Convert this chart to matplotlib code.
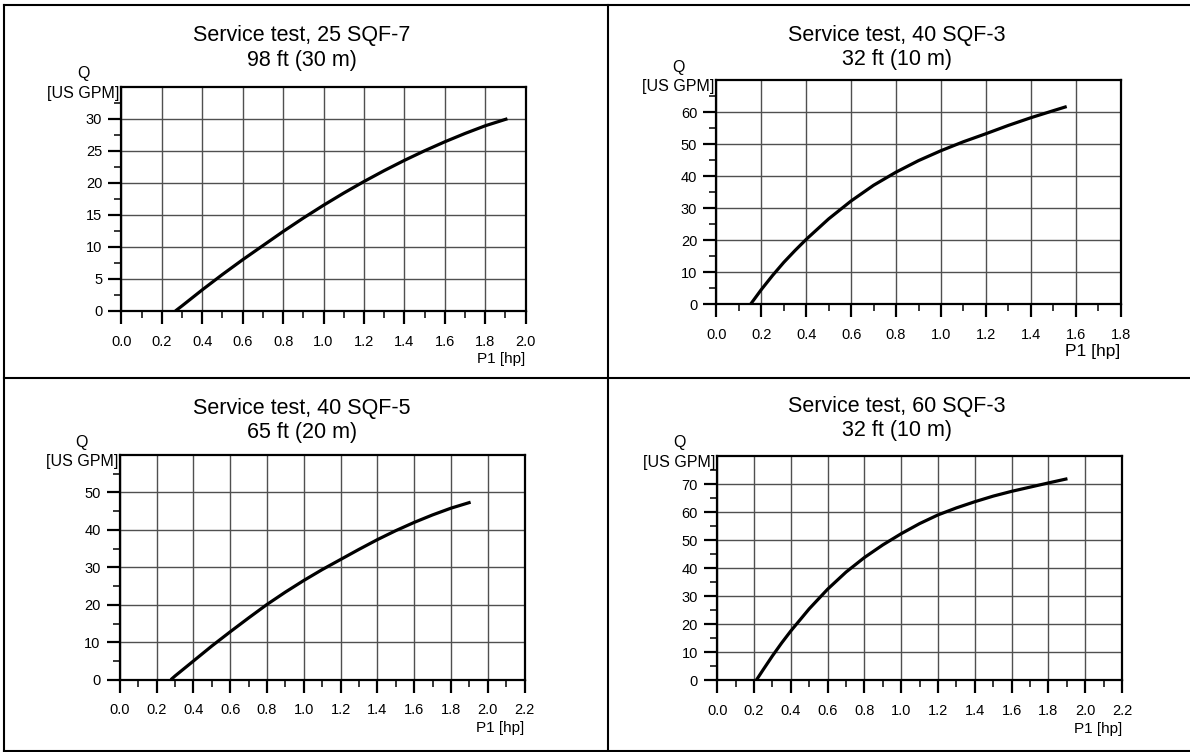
import matplotlib
matplotlib.use("Agg")
import matplotlib.pyplot as plt
import numpy as np
from matplotlib.lines import Line2D
from matplotlib.ticker import FormatStrFormatter, FixedLocator

plt.rcParams['font.family'] = ['Liberation Sans', 'DejaVu Sans']

# ---------------- data ----------------
titles = ["Service test, 25 SQF-7", "Service test, 40 SQF-3",
          "Service test, 40 SQF-5", "Service test, 60 SQF-3"]
subtitles = ["98 ft (30 m)", "32 ft (10 m)", "65 ft (20 m)", "32 ft (10 m)"]

p1_a = [0.267, 0.3, 0.4, 0.5, 0.6, 0.7, 0.8, 0.9, 1.0, 1.1, 1.2, 1.3, 1.4, 1.5, 1.6, 1.7, 1.8, 1.91]
q_a = [0.0, 0.8, 3.3, 5.7, 8.0, 10.2, 12.4, 14.5, 16.5, 18.4, 20.2, 21.9, 23.5, 25.0, 26.4, 27.7, 28.9, 30.0]

p1_b = [0.152, 0.2, 0.25, 0.3, 0.35, 0.4, 0.5, 0.6, 0.7, 0.8, 0.9, 1.0, 1.1, 1.2, 1.3, 1.4, 1.5, 1.56]
q_b = [0.0, 4.6, 9.0, 13.1, 16.8, 20.3, 26.7, 32.3, 37.2, 41.3, 44.9, 48.0, 50.8, 53.3, 55.9, 58.3, 60.5, 61.8]

p1_c = [0.277, 0.3, 0.4, 0.5, 0.6, 0.7, 0.8, 0.9, 1.0, 1.1, 1.2, 1.3, 1.4, 1.5, 1.6, 1.7, 1.8, 1.907]
q_c = [0.0, 1.0, 5.0, 9.0, 12.8, 16.5, 20.1, 23.4, 26.5, 29.4, 32.1, 34.8, 37.4, 39.8, 42.0, 44.0, 45.8, 47.4]

p1_d = [0.212, 0.25, 0.3, 0.35, 0.4, 0.5, 0.6, 0.7, 0.8, 0.9, 1.0, 1.1, 1.2, 1.3, 1.4, 1.5, 1.6, 1.7, 1.8, 1.903]
q_d = [0.0, 3.8, 8.7, 13.3, 17.6, 25.5, 32.5, 38.6, 43.8, 48.3, 52.3, 55.9, 59.0, 61.5, 63.7, 65.7, 67.4, 68.9, 70.4, 71.9]

x_max = [2.0, 1.8, 2.2, 2.2]
y_max = [35, 70, 60, 80]
y_step = [5, 10, 10, 10]
x_label = "P1 [hp]"
y_label_1 = "Q"
y_label_2 = "[US GPM]"

series_x = [p1_a, p1_b, p1_c, p1_d]
series_y = [q_a, q_b, q_c, q_d]

# ---------------- layout (pixels) ----------------
W, H = 1190, 752
fig = plt.figure(figsize=(W / 100, H / 100), dpi=100)

# left, top, right, bottom of each plot area in pixels
boxes = [(121.4, 86.7, 525.6, 311.0),
         (716.4, 80.3, 1120.6, 304.3),
         (119.9, 455.0, 524.5, 679.7),
         (717.2, 456.0, 1122.1, 680.3)]
title_pos = [(302, 35.5, 60.5), (897, 35.0, 60.0), (302, 408.5, 432.5), (897, 406.5, 431.0)]
xlabel_off = [48, 47, 48, 49]
xlabel_size = [11, 12.5, 11, 11]


def fx(px):
    return px / W


def fy(py):
    return 1 - py / H


for i in range(4):
    l, t, r, b = boxes[i]
    ax = fig.add_axes([fx(l), fy(b), (r - l) / W, (b - t) / H])
    ax.set_xlim(0, x_max[i])
    ax.set_ylim(0, y_max[i])
    ax.xaxis.set_major_locator(FixedLocator(np.round(np.arange(0, x_max[i] + 0.001, 0.2), 1)))
    ax.xaxis.set_minor_locator(FixedLocator(np.round(np.arange(0.1, x_max[i], 0.2), 1)))
    ax.xaxis.set_major_formatter(FormatStrFormatter('%.1f'))
    ys = y_step[i]
    ax.yaxis.set_major_locator(FixedLocator(np.arange(0, y_max[i] - ys + 0.001, ys)))
    ax.yaxis.set_minor_locator(FixedLocator(np.arange(ys / 2, y_max[i], ys)))
    ax.yaxis.set_major_formatter(FormatStrFormatter('%d'))
    ax.grid(True, which='major', color='#505050', linewidth=1.0)
    ax.set_axisbelow(True)
    for s in ax.spines.values():
        s.set_linewidth(1.6)
        s.set_color('black')
    ax.tick_params(axis='both', which='major', direction='out', length=9.5, width=1.6,
                   labelsize=10.5, colors='black')
    ax.tick_params(axis='both', which='minor', direction='out', length=4.7, width=1.1)
    ax.tick_params(axis='x', which='major', pad=7.5)
    ax.tick_params(axis='y', which='major', pad=4.3)
    ax.tick_params(top=False, right=False, which='both')

    ax.plot(series_x[i], series_y[i], color='black', linewidth=2.3,
            solid_capstyle='butt', solid_joinstyle='round', zorder=5)

    # y-axis label (two lines) placed relative to plot area corner
    fig.text(fx(l - 38), fy(t - 13), y_label_1, ha='center', va='center', fontsize=11.5)
    fig.text(fx(l - 38), fy(t + 6.5), y_label_2, ha='center', va='center', fontsize=11.5)
    # x-axis label right-aligned under the plot area
    fig.text(fx(r), fy(b + xlabel_off[i]), x_label, ha='right', va='center',
             fontsize=xlabel_size[i])

    # titles
    cx, y1, y2 = title_pos[i]
    fig.text(fx(cx), fy(y1), titles[i], ha='center', va='center', fontsize=15.5)
    fig.text(fx(cx), fy(y2), subtitles[i], ha='center', va='center', fontsize=15.5)

# table-like frame
lw = 1.5
frame = [((4, 1190), (5, 5)),
         ((4, 4), (5, 751)),
         ((4, 1190), (751, 751)),
         ((608, 608), (5, 751)),
         ((4, 1190), (378, 378))]
for xs, ys_ in frame:
    fig.add_artist(Line2D([fx(xs[0]), fx(xs[1])], [fy(ys_[0]), fy(ys_[1])],
                          color='black', linewidth=lw, transform=fig.transFigure))

fig.savefig("out.png", dpi=100, facecolor='white')
